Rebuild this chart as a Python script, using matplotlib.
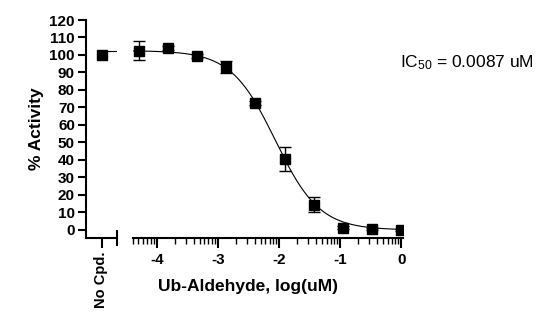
import numpy as np
import matplotlib.pyplot as plt
from matplotlib.ticker import FixedLocator

plt.rcParams['font.family'] = 'Liberation Sans'
plt.rcParams['mathtext.fontset'] = 'custom'
plt.rcParams['mathtext.rm'] = 'Liberation Sans'
plt.rcParams['mathtext.it'] = 'Liberation Sans:italic'
plt.rcParams['axes.unicode_minus'] = False

# data: 3-fold dilutions from 1 uM
log_conc = [-4.294, -3.817, -3.340, -2.863, -2.386, -1.908, -1.431, -0.954, -0.477, 0.0]
activity = [102.5, 104.0, 99.5, 93.0, 72.5, 40.5, 14.5, 1.2, 0.6, 0.0]
err = [5.5, 1.0, 1.0, 3.5, 1.0, 7.0, 4.5, 0.8, 0.8, 0.8]
nocpd_label = 'No Cpd.'
nocpd_value = 100.0

# 4PL fit parameters
top, bottom, log_ic50, hill = 102.5, 0.0, np.log10(0.0087), 1.2

def fit(x):
    return bottom + (top - bottom) / (1 + 10 ** (hill * (x - log_ic50)))

fig = plt.figure(figsize=(5.45, 3.31), dpi=100)
ax1 = fig.add_axes([86/545, 1-238/331, 31/545, 218/331])
ax2 = fig.add_axes([133/545, 1-238/331, 270/545, 218/331])

ylo, yhi = -4.6, 120

# left segment: no compound control
ax1.plot([1], [nocpd_value], 's', color='black', ms=7)
ax1.plot([1.4, 2], [fit(-6), fit(-6)], color='black', lw=0.8)
ax1.set_xlim(0, 2)
ax1.set_ylim(ylo, yhi)
ax1.set_xticks([1])
ax1.set_xticklabels([nocpd_label], rotation=90, fontsize=10.5, fontweight='bold')
ax1.xaxis.set_minor_locator(FixedLocator([2]))
ax1.set_yticks(range(0, 121, 10))
ax1.tick_params(axis='y', labelsize=11, width=1.5, length=6, pad=2)
for t in ax1.get_yticklabels():
    t.set_fontweight('bold')
ax1.tick_params(axis='x', which='major', width=1.5, length=7, pad=3)
ax1.tick_params(axis='x', which='minor', width=1.5, length=12, direction='inout')
ax1.spines['top'].set_visible(False)
ax1.spines['right'].set_visible(False)
ax1.spines['left'].set_linewidth(1.5)
ax1.spines['bottom'].set_linewidth(1.5)
ax1.set_ylabel('% Activity', fontsize=12.5, fontweight='bold', labelpad=4)

# right segment: dose response
xs = np.linspace(-4.39, 0, 300)
ax2.plot(xs, fit(xs), color='black', lw=0.8)
ax2.errorbar(log_conc, activity, yerr=err, fmt='s', color='black', ms=7,
             elinewidth=1.0, capsize=4, capthick=1.0)
ax2.set_xlim(-4.39, 0.03)
ax2.set_ylim(ylo, yhi)
ax2.set_xticks([-4, -3, -2, -1, 0])
minors = [d + np.log10(k) for d in range(-5, 0) for k in range(2, 10)]
minors = [m for m in minors if m >= -4.39]
ax2.xaxis.set_minor_locator(FixedLocator(minors + [-4.39]))
ax2.tick_params(axis='x', which='major', width=1.5, length=7, labelsize=11, pad=4)
ax2.tick_params(axis='x', which='minor', width=1.0, length=4)
for t in ax2.get_xticklabels():
    t.set_fontweight('bold')
ax2.set_yticks([])
for s in ['top', 'right', 'left']:
    ax2.spines[s].set_visible(False)
ax2.spines['bottom'].set_linewidth(1.5)

fig.text(248/545, 1-287/331, 'Ub-Aldehyde, log(uM)', fontsize=12.5,
         fontweight='bold', ha='center', va='center')
fig.text(400/545, 1-63/331, r'IC$_{50}$ = 0.0087 uM', fontsize=12.5, va='center')

fig.savefig('out.png', dpi=100)
